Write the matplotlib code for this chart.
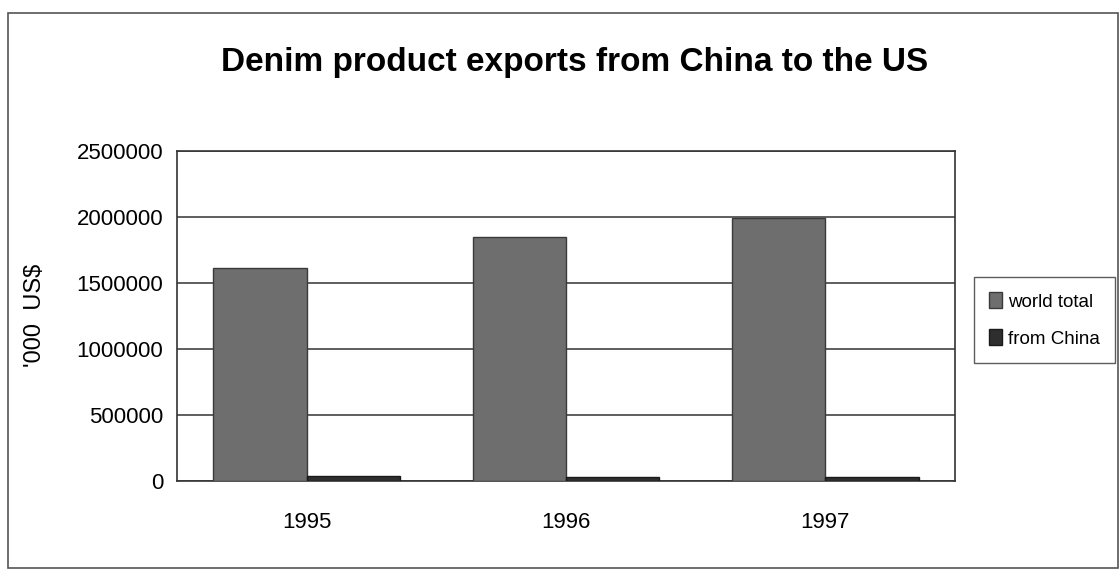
import numpy as np
import matplotlib
matplotlib.use("Agg")
import matplotlib.pyplot as plt
from matplotlib.patches import Rectangle

# values ('000 US$)
years = ["1995", "1996", "1997"]
world_total = [1610000, 1850000, 1990000]
from_china = [35000, 30000, 28000]
yticks = [0, 500000, 1000000, 1500000, 2000000, 2500000]

plt.rcParams['font.family'] = ['Liberation Sans', 'DejaVu Sans']

fig = plt.figure(figsize=(11.2, 5.75), dpi=100)
ax = fig.add_axes([177/1120, 1 - 481/575, (955-177)/1120, (481-151)/575])

# outer chart frame
fig.patches.append(Rectangle((8/1120, 7/575), (1118-8)/1120, (565-10)/575,
                             transform=fig.transFigure, fill=False,
                             edgecolor='#555555', linewidth=1.2))

x = np.arange(len(years))
w = 0.36
ax.bar(x - w/2, world_total, w, color='#6e6e6e', edgecolor='#3a3a3a',
       linewidth=1, label='world total', zorder=3)
ax.bar(x + w/2, from_china, w, color='#2e2e2e', edgecolor='#1a1a1a',
       linewidth=1, label='from China', zorder=3)

ax.set_xlim(-0.5, 2.5)
ax.set_ylim(0, 2500000)
ax.set_yticks(yticks)
ax.set_yticklabels([str(v) for v in yticks], fontsize=16)
ax.set_xticks(x)
ax.set_xticklabels(years, fontsize=16)
ax.tick_params(axis='both', length=0)
ax.tick_params(axis='x', pad=22)
ax.tick_params(axis='y', pad=10)
ax.yaxis.grid(True, color='#333333', linewidth=1.1, zorder=0)
for s in ax.spines.values():
    s.set_color('#333333')
    s.set_linewidth(1.2)

fig.text(35/1120, 1 - 315/575, "'000  US$", rotation=90, fontsize=17,
         ha='center', va='center')
fig.text(575/1120, 1 - 63/575, "Denim product exports from China to the US",
         fontsize=24, fontweight='bold', ha='center', va='center')

leg = fig.legend(loc='center left', bbox_to_anchor=(974/1120, 1 - 320/575),
                 fontsize=13.5, frameon=True, fancybox=False, edgecolor='#333333',
                 handlelength=0.7, handleheight=0.9, handletextpad=0.3,
                 labelspacing=1.0, borderpad=0.8, borderaxespad=0)
leg.get_frame().set_linewidth(1.0)

fig.savefig("out.png", dpi=100)
